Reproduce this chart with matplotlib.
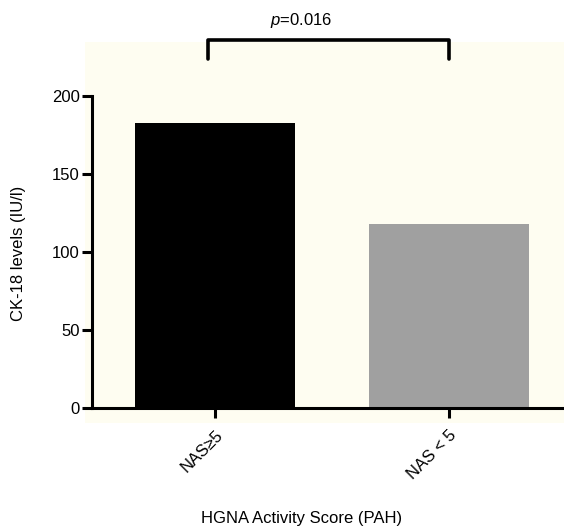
import matplotlib
matplotlib.use("Agg")
import matplotlib.pyplot as plt

categories = ["NAS\u22655", "NAS < 5"]
values = [183, 118]
bar_colors = ["#000000", "#a0a0a0"]
y_ticks = [0, 50, 100, 150, 200]
p_text = "$p$=0.016"

plt.rcParams["font.family"] = ["Liberation Sans", "DejaVu Sans"]
plt.rcParams["mathtext.fontset"] = "custom"
plt.rcParams["mathtext.it"] = "Liberation Sans:italic"

W, H = 564, 528
fig = plt.figure(figsize=(W / 100, H / 100), dpi=100)

# cream panel behind the plot
bg = fig.add_axes([85 / W, 1 - 423 / H, (W - 85) / W, (423 - 42) / H])
bg.set_axis_off()
bg.add_patch(plt.Rectangle((0, 0), 1, 1, facecolor="#fefdf1",
                           edgecolor="none", transform=bg.transAxes))
bg.set_zorder(0)

# axes box: y axis at x=92, x axis at y=408, 200 tick at y=96
ax = fig.add_axes([92 / W, 1 - 408 / H, (W - 92) / W, (408 - 96) / H])
ax.patch.set_visible(False)
ax.set_zorder(1)

x = list(range(len(categories)))
ax.bar(x, values, width=0.68, color=bar_colors, edgecolor="none")

# category centres at 215 and 449 px
ax.set_xlim(-(215 - 92) / 234, (W - 215) / 234)
ax.set_ylim(0, 200)
ax.set_yticks(y_ticks)
ax.set_xticks(x)
ax.set_xticklabels(categories, rotation=45, ha="right",
                   rotation_mode="anchor", fontsize=12)
ax.tick_params(axis="y", labelsize=12, length=7, width=2.2, pad=2)
ax.tick_params(axis="x", length=7, width=2.2, pad=7)

for side in ["top", "right"]:
    ax.spines[side].set_visible(False)
for side in ["left", "bottom"]:
    ax.spines[side].set_linewidth(2.2)

fig.text(19 / W, 1 - 253 / H, "CK-18 levels (IU/l)", rotation=90,
         ha="center", va="center", fontsize=12)
fig.text(302 / W, 1 - 518 / H, "HGNA Activity Score (PAH)",
         ha="center", va="center", fontsize=12)

# significance bracket
ax.plot([x[0] - 0.03, x[0] - 0.03, x[1], x[1]], [224, 236, 236, 224],
        color="black", lw=2.6, clip_on=False, solid_capstyle="round")
fig.text(301 / W, 1 - 21 / H, p_text, ha="center", va="center",
         fontsize=12)

fig.savefig("out.png", dpi=100)
